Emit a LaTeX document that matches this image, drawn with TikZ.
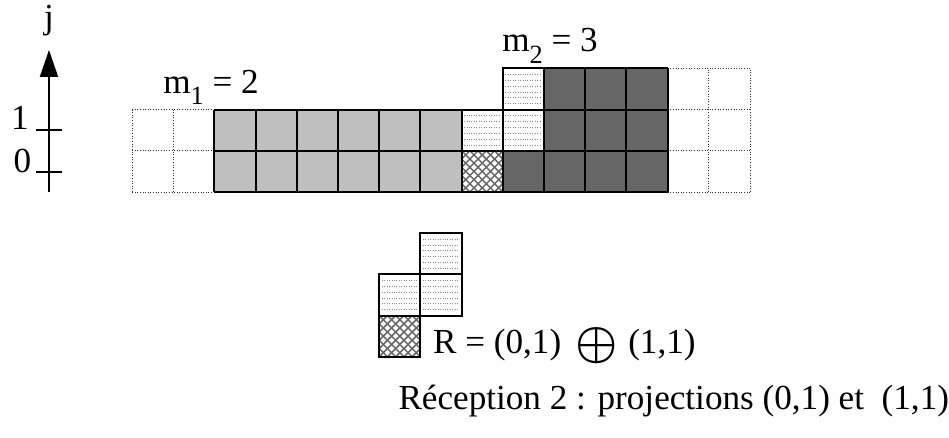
\documentclass[tikz,border=0pt]{standalone}
\usepackage{fontspec}
\setmainfont{Liberation Serif}
\usepackage{tikz}
\usetikzlibrary{arrows.meta}

% one cell with dotted horizontal hatching, lower left corner at (#1,#2)
\newcommand{\dotcell}[2]{%
  \foreach \k in {1,...,6}
    \draw[hline] ({#1+0.06},{#2+\k/7}) -- ({#1+0.94},{#2+\k/7});
  \draw[cellin] (#1,#2) rectangle ++(1,1);}
% one cell with diagonal cross hatching
\newcommand{\hatchcell}[2]{%
  \begin{scope}
    \clip (#1,#2) rectangle ++(1,1);
    \foreach \k in {-5,...,5}
      \draw[xline] ({#1+\k/5},#2) -- ++(1,1) ({#1+\k/5},{#2+1}) -- ++(1,-1);
  \end{scope}
  \draw[cellin] (#1,#2) rectangle ++(1,1);}
\newcommand{\lowsub}[1]{\raisebox{-0.32em}{\fontsize{15}{18}\selectfont #1}}

\begin{document}
\begin{tikzpicture}[x=0.824cm, y=0.824cm, font=\fontsize{20}{24}\selectfont,
  cellout/.style={draw=black!80, densely dotted, line width=0.5pt, step={(1,1)}},
  cellin/.style={draw=black, line width=1.1pt, step={(1,1)}},
  hline/.style={black!45, densely dotted, line width=0.4pt},
  xline/.style={black!60, line width=0.85pt},
  arr/.style={-{Triangle[length=0.54cm, width=0.36cm]}, line width=1.1pt},
  lbl/.style={inner sep=0pt, anchor=base west}]
\useasboundingbox (-3.204,-5.947) rectangle (19.83,4.66);
% axis j
\coordinate (base) at (-2.015,0);
\coordinate (tip) at (-2.015,3.447);
\draw[arr] (base) -- (tip);
\node[anchor=base, inner sep=0pt] (jlab) at (-2.015,3.98) {j};
\coordinate (t0w) at (-2.33,0.485); \coordinate (t0e) at (-1.70,0.485);
\coordinate (t1w) at (-2.33,1.505); \coordinate (t1e) at (-1.70,1.505);
\draw[line width=1.1pt] (t0w) -- (t0e) (t1w) -- (t1e);
\node[anchor=base east, inner sep=0pt] (l0) at (-2.44,0.485) {0};
\node[anchor=base east, inner sep=0pt] (l1) at (-2.5,1.505) {1};
% free cells
\draw[cellout] (0,0) grid (2,2);
\draw[cellout] (13,0) grid (15,3);
% first block
\fill[black!25] (2,0) rectangle (8,2);
\draw[cellin] (2,0) grid (8,2);
% second block
\fill[black!60] (9,0) rectangle (10,1) (10,0) rectangle (13,3);
\draw[cellin] (9,0) grid (13,1) (10,1) grid (13,3);
% projections and remainder
\dotcell{8}{1} \dotcell{9}{1} \dotcell{9}{2}
\hatchcell{8}{0}
\node[lbl] (m1) at (0.75,2.40) {m\lowsub{1} = 2};
\node[lbl] (m2) at (8.98,3.40) {m\lowsub{2} = 3};
% reception pattern
\dotcell{7}{-2} \dotcell{6}{-3} \dotcell{7}{-3}
\hatchcell{6}{-4}
\node[lbl] (rsum) at (7.3,-3.91) {R = (0,1)\hspace{0.4em}\raisebox{-0.12em}{\scalebox{1.3}{\boldmath$\oplus$}}\hspace{0.3em}(1,1)};
\node[lbl] (titre) at (6.46,-5.29) {Réception 2 : projections (0,1) et\ \ (1,1)};
\end{tikzpicture}
\end{document}
